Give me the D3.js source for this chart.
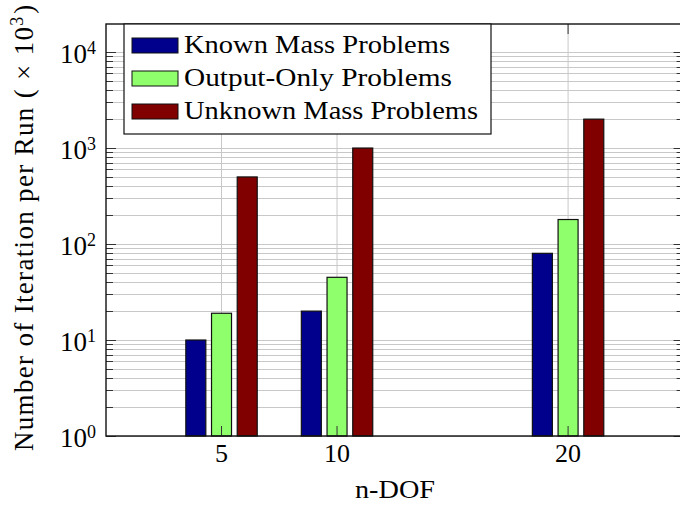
<html>
  <head>
    <script src="https://cdn.jsdelivr.net/npm/d3@7"></script>
    <style>
      body { margin: 0; background: #fff; }
      text { font-family: "Liberation Serif", "DejaVu Serif", serif; fill: #000; }
    </style>
  </head>
  <body>
    <div id="main"></div>
  <script>
    // data
    var categories = [5, 10, 20];
    var seriesNames = ['Known Mass Problems', 'Output-Only Problems', 'Unknown Mass Problems'];
    var knownMass = [10, 20, 80];
    var outputOnly = [19, 45, 180];
    var unknownMass = [500, 1000, 2000];
    var yTickValues = [1, 10, 100, 1000, 10000];
    var yTickExponents = ['0', '1', '2', '3', '4'];

    var series = [knownMass, outputOnly, unknownMass];
    var colors = ['#00008c', '#8fff6b', '#800000'];

    var width = 680, height = 505;
    var plotLeft = 106, plotRight = 683.6, plotTop = 24, plotBottom = 436;

    var svg = d3.select('#main').append('svg')
      .attr('width', width)
      .attr('height', height);

    var x = d3.scaleLinear().domain([0, 25]).range([plotLeft, plotRight]);
    var y = d3.scaleLog().domain([1, 19600]).range([plotBottom, plotTop]);

    // grid
    var grid = svg.append('g').attr('stroke', '#c8c8c8').attr('stroke-width', 1);
    var minor = y.ticks().filter(function(v) { return v <= y.domain()[1]; });
    grid.selectAll('line.hy').data(minor).enter().append('line')
      .attr('x1', plotLeft).attr('x2', plotRight)
      .attr('y1', function(d) { return Math.round(y(d)) + 0.5; })
      .attr('y2', function(d) { return Math.round(y(d)) + 0.5; });
    grid.selectAll('line.vx').data(categories).enter().append('line')
      .attr('y1', plotTop).attr('y2', plotBottom)
      .attr('x1', function(d) { return x(d); })
      .attr('x2', function(d) { return x(d); });

    // bars
    var barWidth = 20, barStep = 25.7;
    series.forEach(function(vals, s) {
      svg.append('g').selectAll('rect').data(vals).enter().append('rect')
        .attr('x', function(d, i) { return x(categories[i]) + (s - 1) * barStep - barWidth / 2; })
        .attr('y', function(d) { return y(d); })
        .attr('width', barWidth)
        .attr('height', function(d) { return y(1) - y(d); })
        .attr('fill', colors[s])
        .attr('stroke', '#111')
        .attr('stroke-width', 1.2);
    });

    // ticks (inward, both sides)
    var ticks = svg.append('g').attr('stroke', '#333').attr('stroke-width', 1);
    minor.forEach(function(v) {
      var isMajor = yTickValues.indexOf(v) >= 0;
      var len = isMajor ? 10 : 7;
      var yy = Math.round(y(v)) + 0.5;
      ticks.append('line').attr('x1', plotLeft).attr('x2', plotLeft + len).attr('y1', yy).attr('y2', yy);
      ticks.append('line').attr('x1', plotRight).attr('x2', plotRight - len).attr('y1', yy).attr('y2', yy);
    });
    categories.forEach(function(c) {
      ticks.append('line').attr('x1', x(c)).attr('x2', x(c)).attr('y1', plotBottom).attr('y2', plotBottom - 10);
      ticks.append('line').attr('x1', x(c)).attr('x2', x(c)).attr('y1', plotTop).attr('y2', plotTop + 10);
    });

    // frame
    svg.append('rect')
      .attr('x', plotLeft).attr('y', plotTop)
      .attr('width', plotRight - plotLeft).attr('height', plotBottom - plotTop)
      .attr('fill', 'none').attr('stroke', '#111').attr('stroke-width', 1.4);

    // y tick labels 10^n
    yTickValues.forEach(function(v, i) {
      var t = svg.append('text')
        .attr('x', plotLeft - 10)
        .attr('y', y(v) + 10.5)
        .attr('text-anchor', 'end')
        .style('font-size', '27px');
      t.append('tspan').text('10');
      t.append('tspan').attr('dy', -9).style('font-size', '18px').text(yTickExponents[i]);
    });

    // x tick labels
    svg.selectAll('text.xt').data(categories).enter().append('text')
      .attr('x', function(d) { return x(d); })
      .attr('y', 462)
      .attr('text-anchor', 'middle')
      .style('font-size', '26px')
      .text(function(d) { return d; });

    // axis labels
    svg.append('text')
      .attr('x', 395)
      .attr('y', 498)
      .attr('textLength', 80)
      .attr('lengthAdjust', 'spacingAndGlyphs')
      .attr('text-anchor', 'middle')
      .style('font-size', '26px')
      .text('n-DOF');

    var yl = svg.append('text')
      .attr('transform', 'translate(33,451) rotate(-90)')
      .style('font-size', '27px');
    yl.append('tspan')
      .attr('textLength', 424)
      .attr('lengthAdjust', 'spacing')
      .text('Number of Iteration per Run ( \u00d7 10');
    yl.append('tspan').attr('dy', -10).style('font-size', '18px').text('3');
    yl.append('tspan').attr('dy', 10).attr('dx', 3).text(')');

    // legend
    var legend = svg.append('g');
    legend.append('rect')
      .attr('x', 124).attr('y', plotTop)
      .attr('width', 367).attr('height', 110)
      .attr('fill', '#fff').attr('stroke', '#111').attr('stroke-width', 1.2);
    var textWidths = [266, 268, 294];
    seriesNames.forEach(function(name, i) {
      var base = 53 + i * 33;
      legend.append('rect')
        .attr('x', 132).attr('y', base - 15)
        .attr('width', 46).attr('height', 15)
        .attr('fill', colors[i]).attr('stroke', '#111').attr('stroke-width', 1);
      legend.append('text')
        .attr('x', 184).attr('y', base)
        .attr('textLength', textWidths[i])
        .attr('lengthAdjust', 'spacingAndGlyphs')
        .style('font-size', '26px')
        .text(name);
    });
  </script>
  </body>
</html>
